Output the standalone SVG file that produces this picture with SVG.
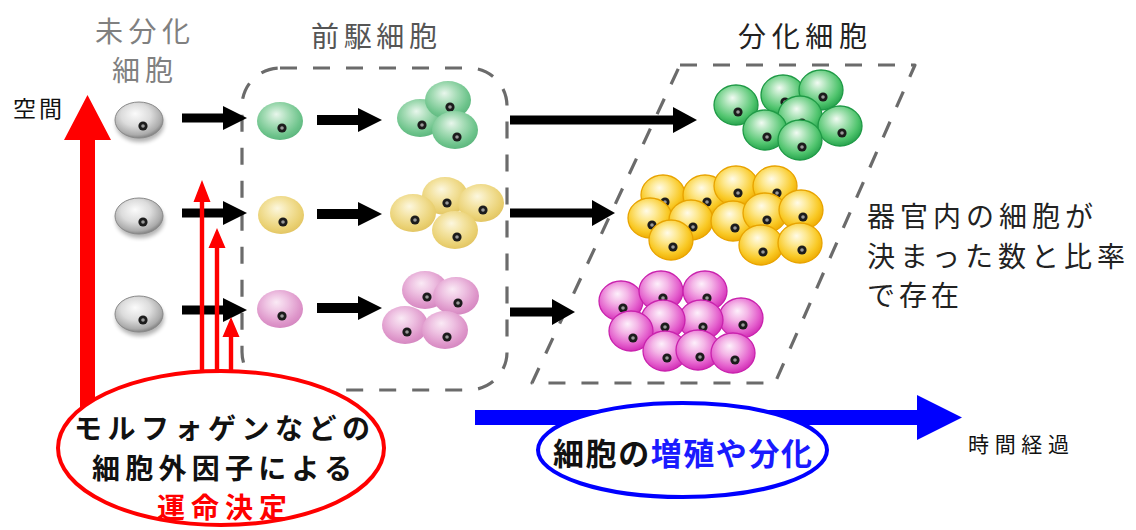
<svg xmlns="http://www.w3.org/2000/svg" xmlns:xlink="http://www.w3.org/1999/xlink" width="1136" height="530" viewBox="0 0 1136 530">
  <style>
    text { font-family: "Noto Sans CJK JP", "Noto Sans", sans-serif; }
    .title { font-size: 28px; }
    .dash { fill: none; stroke: #6b6b6b; stroke-width: 3.2; stroke-dasharray: 17 16; stroke-linejoin: round; stroke-linecap: butt; }
    .blk { fill: #000; }
    .red { fill: #ff0000; }
    .blue { fill: #0000ff; }
    .lbl { font-size: 28px; fill: #222; }
    .bold { font-weight: bold; }
  </style>
  <defs>
    <radialGradient id="gGray" cx="0.45" cy="0.4" r="0.62" fx="0.42" fy="0.32">
      <stop offset="0" stop-color="#fbfbfb"/>
      <stop offset="0.5" stop-color="#dcdcdc"/>
      <stop offset="0.85" stop-color="#ababab"/>
      <stop offset="1" stop-color="#7c7c7c"/>
    </radialGradient>
    <radialGradient id="gGreenP" cx="0.45" cy="0.4" r="0.62" fx="0.42" fy="0.32">
      <stop offset="0" stop-color="#e8f6ec"/>
      <stop offset="0.4" stop-color="#a8ddb8"/>
      <stop offset="0.8" stop-color="#6ec48c"/>
      <stop offset="1" stop-color="#5cb57d"/>
    </radialGradient>
    <radialGradient id="gYellowP" cx="0.45" cy="0.4" r="0.62" fx="0.42" fy="0.32">
      <stop offset="0" stop-color="#fcf7df"/>
      <stop offset="0.4" stop-color="#f4e4a4"/>
      <stop offset="0.8" stop-color="#ead173"/>
      <stop offset="1" stop-color="#e2c462"/>
    </radialGradient>
    <radialGradient id="gPinkP" cx="0.45" cy="0.4" r="0.62" fx="0.42" fy="0.32">
      <stop offset="0" stop-color="#faeaf5"/>
      <stop offset="0.4" stop-color="#eec2e2"/>
      <stop offset="0.8" stop-color="#de96ca"/>
      <stop offset="1" stop-color="#d486c0"/>
    </radialGradient>
    <radialGradient id="gGreenD" cx="0.45" cy="0.4" r="0.62" fx="0.42" fy="0.32">
      <stop offset="0" stop-color="#f2fbf3"/>
      <stop offset="0.35" stop-color="#a3e1b1"/>
      <stop offset="0.75" stop-color="#4fc46d"/>
      <stop offset="1" stop-color="#24a04b"/>
    </radialGradient>
    <radialGradient id="gYellowD" cx="0.45" cy="0.4" r="0.62" fx="0.42" fy="0.32">
      <stop offset="0" stop-color="#fffbe8"/>
      <stop offset="0.35" stop-color="#fde88f"/>
      <stop offset="0.75" stop-color="#f9c925"/>
      <stop offset="1" stop-color="#eeaa00"/>
    </radialGradient>
    <radialGradient id="gPinkD" cx="0.45" cy="0.4" r="0.62" fx="0.42" fy="0.32">
      <stop offset="0" stop-color="#fdf0fb"/>
      <stop offset="0.35" stop-color="#f4b6e7"/>
      <stop offset="0.75" stop-color="#e45fcd"/>
      <stop offset="1" stop-color="#d02ab3"/>
    </radialGradient>
    <filter id="soft" x="-20%" y="-20%" width="140%" height="140%">
      <feGaussianBlur stdDeviation="0.7"/>
    </filter>
    <filter id="shadow" x="-30%" y="-30%" width="160%" height="170%">
      <feGaussianBlur stdDeviation="2"/>
    </filter>

    <!-- nucleus: dark ring with a grey centre -->
    <g id="nuc">
      <circle r="4.6" fill="#1c1c1c"/>
      <circle r="1.8" fill="#9a9a9a"/>
    </g>

    <!-- cell prototypes, origin at cell centre -->
    <g id="cellGray">
      <ellipse cx="1" cy="4" rx="24" ry="18" fill="#000" opacity="0.3" filter="url(#shadow)"/>
      <ellipse rx="24" ry="18" fill="url(#gGray)" stroke="#8a8a8a" stroke-width="1"/>
      <use xlink:href="#nuc" x="4" y="6"/>
    </g>
    <g id="cellGreenP" filter="url(#soft)">
      <ellipse rx="23" ry="19" fill="url(#gGreenP)"/>
      <use xlink:href="#nuc" x="2" y="7"/>
    </g>
    <g id="cellYellowP" filter="url(#soft)">
      <ellipse rx="23" ry="19" fill="url(#gYellowP)"/>
      <use xlink:href="#nuc" x="2" y="7"/>
    </g>
    <g id="cellPinkP" filter="url(#soft)">
      <ellipse rx="23" ry="19" fill="url(#gPinkP)"/>
      <use xlink:href="#nuc" x="2" y="7"/>
    </g>
    <g id="cellGreenD">
      <ellipse rx="22" ry="20" fill="url(#gGreenD)" stroke="#1f9a46" stroke-width="1.3"/>
      <use xlink:href="#nuc" x="2" y="7"/>
    </g>
    <g id="cellYellowD">
      <ellipse rx="22" ry="20" fill="url(#gYellowD)" stroke="#e8a300" stroke-width="1.3"/>
      <use xlink:href="#nuc" x="2" y="7"/>
    </g>
    <g id="cellPinkD">
      <ellipse rx="22" ry="20" fill="url(#gPinkD)" stroke="#c922ad" stroke-width="1.3"/>
      <use xlink:href="#nuc" x="2" y="7"/>
    </g>
  </defs>

  <rect width="1136" height="530" fill="#fff"/>

  <!-- headings -->
  <g id="heading-undiff">
    <text class="title" x="95" y="42" fill="#808080" textLength="95" lengthAdjust="spacing">未分化</text>
    <text class="title" x="112" y="81" fill="#808080" textLength="61" lengthAdjust="spacing">細胞</text>
  </g>
  <g id="heading-progenitor">
    <text class="title" x="311" y="47" fill="#555" textLength="126" lengthAdjust="spacing">前駆細胞</text>
  </g>
  <g id="heading-diff">
    <text class="title" x="738" y="47" fill="#222" textLength="129" lengthAdjust="spacing">分化細胞</text>
  </g>
  <g id="label-space">
    <text x="13" y="117" font-size="23" fill="#111" textLength="49" lengthAdjust="spacing">空間</text>
  </g>

  <!-- group frames -->
  <g id="progenitor-frame">
    <rect class="dash" x="242" y="68" width="265" height="322" rx="38"/>
  </g>
  <g id="differentiated-frame">
    <path class="dash" d="M680,65 H915 L775,383 H532 Z"/>
  </g>

  <!-- undifferentiated cells -->
  <g id="undiff-cells">
    <use xlink:href="#cellGray" x="139" y="120"/>
    <use xlink:href="#cellGray" x="139" y="216"/>
    <use xlink:href="#cellGray" x="139" y="314"/>
  </g>

  <!-- progenitor cells -->
  <g id="progenitor-green">
    <use xlink:href="#cellGreenP" x="280" y="121"/>
    <use xlink:href="#cellGreenP" x="420" y="118"/>
    <use xlink:href="#cellGreenP" x="448" y="100"/>
    <use xlink:href="#cellGreenP" x="455" y="130"/>
  </g>
  <g id="progenitor-yellow">
    <use xlink:href="#cellYellowP" x="281" y="215"/>
    <use xlink:href="#cellYellowP" x="445" y="196"/>
    <use xlink:href="#cellYellowP" x="481" y="203"/>
    <use xlink:href="#cellYellowP" x="413" y="213"/>
    <use xlink:href="#cellYellowP" x="455" y="230"/>
  </g>
  <g id="progenitor-pink">
    <use xlink:href="#cellPinkP" x="280" y="309"/>
    <use xlink:href="#cellPinkP" x="425" y="290"/>
    <use xlink:href="#cellPinkP" x="456" y="296"/>
    <use xlink:href="#cellPinkP" x="405" y="325"/>
    <use xlink:href="#cellPinkP" x="445" y="330"/>
  </g>

  <!-- differentiated cells -->
  <g id="diff-green">
    <use xlink:href="#cellGreenD" x="783" y="95"/>
    <use xlink:href="#cellGreenD" x="821" y="90"/>
    <use xlink:href="#cellGreenD" x="736" y="105"/>
    <use xlink:href="#cellGreenD" x="800" y="116"/>
    <use xlink:href="#cellGreenD" x="765" y="130"/>
    <use xlink:href="#cellGreenD" x="840" y="126"/>
    <use xlink:href="#cellGreenD" x="800" y="140"/>
  </g>
  <g id="diff-yellow">
    <use xlink:href="#cellYellowD" x="663" y="195"/>
    <use xlink:href="#cellYellowD" x="705" y="195"/>
    <use xlink:href="#cellYellowD" x="736" y="186"/>
    <use xlink:href="#cellYellowD" x="775" y="186"/>
    <use xlink:href="#cellYellowD" x="650" y="218"/>
    <use xlink:href="#cellYellowD" x="691" y="220"/>
    <use xlink:href="#cellYellowD" x="733" y="221"/>
    <use xlink:href="#cellYellowD" x="765" y="213"/>
    <use xlink:href="#cellYellowD" x="801" y="210"/>
    <use xlink:href="#cellYellowD" x="671" y="240"/>
    <use xlink:href="#cellYellowD" x="761" y="245"/>
    <use xlink:href="#cellYellowD" x="800" y="243"/>
  </g>
  <g id="diff-pink">
    <use xlink:href="#cellPinkD" x="621" y="301"/>
    <use xlink:href="#cellPinkD" x="661" y="291"/>
    <use xlink:href="#cellPinkD" x="705" y="291"/>
    <use xlink:href="#cellPinkD" x="741" y="318"/>
    <use xlink:href="#cellPinkD" x="701" y="320"/>
    <use xlink:href="#cellPinkD" x="663" y="320"/>
    <use xlink:href="#cellPinkD" x="631" y="331"/>
    <use xlink:href="#cellPinkD" x="665" y="351"/>
    <use xlink:href="#cellPinkD" x="698" y="350"/>
    <use xlink:href="#cellPinkD" x="733" y="353"/>
  </g>

  <g id="label-organ">
    <text class="lbl" x="867" y="227" textLength="226" lengthAdjust="spacing">器官内の細胞が</text>
    <text class="lbl" x="867" y="267" textLength="258" lengthAdjust="spacing">決まった数と比率</text>
    <text class="lbl" x="867" y="306" textLength="92" lengthAdjust="spacing">で存在</text>
  </g>

  <!-- connectors -->
  <g id="connectors">
    <!-- undifferentiated -> progenitor -->
    <path class="blk" d="M182,113.5 H223 V106 L247,118 L223,130 V122.5 H182 Z"/>
    <path class="blk" d="M182,208.5 H223 V201 L247,213 L223,225 V217.5 H182 Z"/>
    <path class="blk" d="M182,305.5 H223 V298 L247,310 L223,322 V314.5 H182 Z"/>
    <!-- progenitor -> proliferating progenitors -->
    <path class="blk" d="M317,115 H358 V108 L382,120 L358,132 V125 H317 Z"/>
    <path class="blk" d="M317,209 H358 V202 L382,214 L358,226 V219 H317 Z"/>
    <path class="blk" d="M317,303 H358 V296 L382,308 L358,320 V313 H317 Z"/>
    <!-- progenitors -> differentiated -->
    <path class="blk" d="M510,115.5 H673 V107 L697,120 L673,133 V124.5 H510 Z"/>
    <path class="blk" d="M510,208.5 H592 V200 L615,213 L592,226 V217.5 H510 Z"/>
    <path class="blk" d="M510,307.5 H552 V299 L575,312 L552,325 V316.5 H510 Z"/>

    <!-- space axis -->
    <path class="red" d="M80,412 V140 H64 L87.5,95 L111,140 H95 V412 Z"/>
    <!-- extracellular signals -->
    <path class="red" d="M199.8,385 V202 H193.5 L202,180 L210.5,202 H204.2 V385 Z"/>
    <path class="red" d="M214.8,385 V248 H208.5 L217,228 L225.5,248 H219.2 V385 Z"/>
    <path class="red" d="M228.8,385 V337 H222.5 L231,317 L239.5,337 H233.2 V385 Z"/>

    <!-- time axis -->
    <path class="blue" d="M475,410 H917 V395 L962,417.5 L917,440 V425 H475 Z"/>
  </g>

  <g id="fate-decision">
    <ellipse cx="221" cy="448" rx="163" ry="77" fill="#fff" stroke="#ff0000" stroke-width="4"/>
    <text class="bold" x="222" y="439" font-size="28" fill="#111" text-anchor="middle" textLength="296" lengthAdjust="spacing">モルフォゲンなどの</text>
    <text class="bold" x="222" y="479" font-size="28" fill="#111" text-anchor="middle" textLength="260" lengthAdjust="spacing">細胞外因子による</text>
    <text class="bold" x="222" y="518" font-size="28" fill="#ff0000" text-anchor="middle" textLength="130" lengthAdjust="spacing">運命決定</text>
  </g>

  <g id="proliferation">
    <ellipse cx="682.5" cy="450" rx="144.5" ry="47" fill="#fff" stroke="#0000ff" stroke-width="4"/>
    <text class="bold" x="553" y="465" font-size="31" textLength="259" lengthAdjust="spacing"><tspan fill="#111">細胞の</tspan><tspan fill="#1a1aff">増殖や分化</tspan></text>
  </g>

  <g id="label-time">
    <text x="968" y="452" font-size="21" fill="#111" textLength="101" lengthAdjust="spacing">時間経過</text>
  </g>
</svg>
